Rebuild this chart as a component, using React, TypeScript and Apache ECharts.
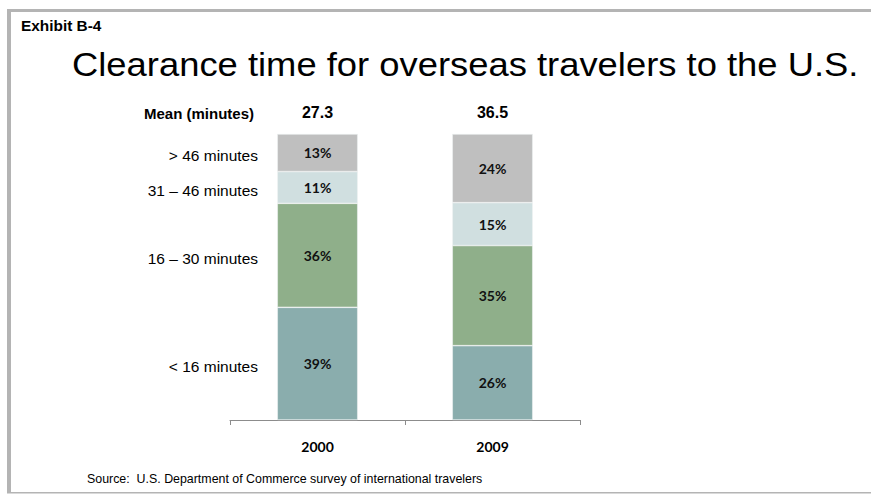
import React, { useEffect, useRef } from "react";
import * as echarts from "echarts";

const categories = ["2000", "2009"];
const meanMinutes = ["27.3", "36.5"];
const bandNames = ["< 16 minutes", "16 – 30 minutes", "31 – 46 minutes", "> 46 minutes"];
const under16 = [39, 26];
const from16to30 = [36, 35];
const from31to46 = [11, 15];
const over46 = [13, 24];
const bandColors = ["#8aadad", "#8faf8a", "#d0dfe0", "#bfbfbf"];

const bandValues = [under16, from16to30, from31to46, over46];

export default function App() {
  const ref = useRef<HTMLDivElement>(null);
  useEffect(() => {
    if (!ref.current) return;
    const chart = echarts.init(ref.current, null, { renderer: "svg" });
    const totals = categories.map((_, i) => bandValues.reduce((s, arr) => s + arr[i], 0));
    const series = bandValues.map((arr, k) => ({
      name: bandNames[k],
      type: "bar",
      stack: "total",
      barWidth: "46%",
      itemStyle: { color: bandColors[k], borderColor: "#eef2f2", borderWidth: 0.6 },
      label: {
        show: true,
        position: "inside",
        formatter: (p: any) => arr[p.dataIndex] + "%",
        color: "#111",
        fontFamily: "Lato, 'Open Sans', sans-serif",
        fontWeight: "bold",
        fontSize: 14,
      },
      data: arr.map((v, i) => (v / totals[i]) * 100),
    }));
    const font = "'Liberation Sans', Arial, sans-serif";
    const borderColor = "#b4b4b4";
    chart.setOption({
      animation: false,
      grid: { left: 230, right: 291, top: 134, bottom: 74 },
      xAxis: [
        {
          type: "category",
          data: categories,
          position: "bottom",
          axisLine: { lineStyle: { color: "#8c8c8c", width: 1 } },
          axisTick: { show: true, length: 5, lineStyle: { color: "#8c8c8c" } },
          axisLabel: {
            margin: 19,
            color: "#000",
            fontFamily: "Lato, 'Open Sans', sans-serif",
            fontWeight: "bold",
            fontSize: 14,
          },
        },
        {
          type: "category",
          data: meanMinutes,
          position: "top",
          axisLine: { show: false },
          axisTick: { show: false },
          axisLabel: { margin: 14, color: "#000", fontFamily: font, fontWeight: "bold", fontSize: 16 },
        },
      ],
      yAxis: { type: "value", min: 0, max: 100, show: false },
      series,
      graphic: [
        { id: "bTop", type: "rect", shape: { x: 7, y: 9, width: 864, height: 3 }, style: { fill: borderColor } },
        { id: "bLeft", type: "rect", shape: { x: 7, y: 9, width: 4, height: 484 }, style: { fill: borderColor } },
        { id: "bBottom", type: "rect", shape: { x: 7, y: 492, width: 864, height: 1.5 }, style: { fill: borderColor } },
        {
          id: "exhibit",
          type: "text",
          x: 21,
          y: 26,
          scaleX: 1.1,
          style: { text: "Exhibit B-4", font: "bold 14px " + font, fill: "#000", textVerticalAlign: "middle" },
        },
        {
          id: "title",
          type: "text",
          x: 72,
          y: 64,
          scaleX: 1.07,
          style: { text: "Clearance time for overseas travelers to the U.S.", font: "34px " + font, fill: "#000", textVerticalAlign: "middle" },
        },
        {
          id: "meanLabel",
          type: "text",
          x: 254,
          y: 113,
          style: { text: "Mean (minutes)", font: "bold 15px " + font, fill: "#000", textAlign: "right", textVerticalAlign: "middle" },
        },
        {
          id: "source",
          type: "text",
          x: 87,
          y: 479,
          style: { text: "Source:  U.S. Department of Commerce survey of international travelers", font: "12.4px " + font, fill: "#000", textVerticalAlign: "middle" },
        },
      ],
    });
    // left-side band labels, placed at the 2000 bar segment centres
    let cum = 0;
    const labels: any[] = [];
    bandValues.forEach((arr, k) => {
      const share = (arr[0] / totals[0]) * 100;
      const mid = cum + share / 2;
      cum += share;
      const pt = chart.convertToPixel({ gridIndex: 0 }, [0, mid]) as number[];
      labels.push({
        id: "band" + k,
        type: "text",
        x: 258,
        y: pt[1] + 3,
        style: { text: bandNames[k], font: "15.5px " + font, fill: "#000", textAlign: "right", textVerticalAlign: "middle" },
      });
    });
    chart.setOption({ graphic: labels });
    return () => chart.dispose();
  }, []);
  return (
    <div
      ref={ref}
      style={{ position: "absolute", left: 0, top: 0, width: 871, height: 494, background: "#fff" }}
    />
  );
}
